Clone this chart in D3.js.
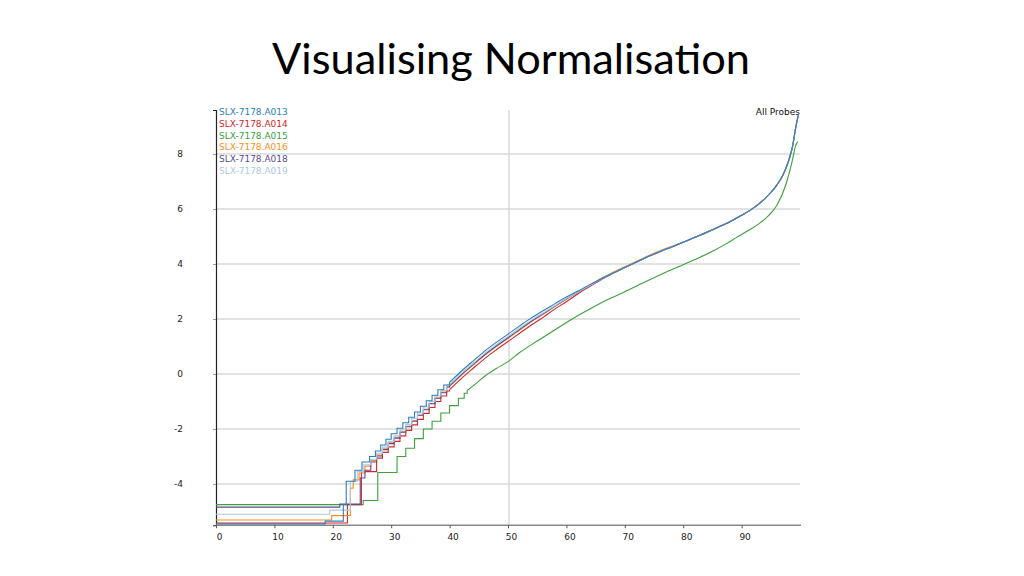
<!DOCTYPE html>
<html><head><meta charset="utf-8">
<script src="https://cdn.jsdelivr.net/npm/d3@7"></script>
<style>body{margin:0;background:#fff;}svg{display:block;}</style>
</head><body>
<svg id="c" width="1024" height="576"></svg>
<script>
// ---- data ----
const seriesNames = ["SLX-7178.A013","SLX-7178.A014","SLX-7178.A015","SLX-7178.A016","SLX-7178.A018","SLX-7178.A019"];
const seriesColors = ["#2f7ebc","#d62728","#3ca03c","#ff8c1a","#5a4d8f","#aec7e8"];
const xTicks = [0,10,20,30,40,50,60,70,80,90];
const yTicks = [-4,-2,0,2,4,6,8];
const vGrid = [50];

// step (low-count) portion, percentile vs value
const stepsA013 = [[0,-5.45],[18.7,-5.35],[21.8,-4.75],[22.3,-3.9],[23.8,-3.5],[25.0,-3.2],[26.3,-3.0],[27.3,-2.8],[28.2,-2.58],[29.1,-2.37],[30.0,-2.17],[31.0,-1.97],[32.0,-1.77],[33.0,-1.57],[34.0,-1.38],[35.0,-1.17],[36.0,-0.97],[37.0,-0.77],[38.0,-0.57],[39.0,-0.4]];
const stepsA014 = [[0,-5.42],[22.5,-4.75],[24.9,-3.55],[27.5,-3.06],[28.5,-2.85],[29.5,-2.65],[30.5,-2.45],[31.5,-2.25],[32.5,-2.05],[33.5,-1.85],[34.5,-1.65],[35.5,-1.43],[36.5,-1.22],[37.5,-1.0],[38.5,-0.8],[39.5,-0.62]];
const stepsA015 = [[0,-4.75],[25.2,-4.6],[27.7,-3.58],[31.0,-3.0],[32.5,-2.7],[34.0,-2.35],[35.5,-2.0],[37.0,-1.72],[38.5,-1.42],[40.0,-1.15],[41.5,-0.88],[42.5,-0.7]];
const stepsA016 = [[0,-5.31],[19.8,-5.15],[23.0,-4.15],[23.5,-3.85],[24.5,-3.6],[25.5,-3.35],[26.5,-3.15],[27.5,-2.95],[28.5,-2.72],[29.5,-2.5],[30.5,-2.3],[31.5,-2.1],[32.5,-1.9],[33.5,-1.7],[34.5,-1.5],[35.5,-1.28],[36.5,-1.07],[37.5,-0.87],[38.5,-0.66],[39.5,-0.47]];
const stepsA018 = [[0,-4.84],[21.2,-4.73],[24.7,-3.78],[25.5,-3.5],[26.5,-3.2],[27.5,-2.98],[28.5,-2.75],[29.5,-2.53],[30.5,-2.33],[31.5,-2.12],[32.5,-1.92],[33.5,-1.72],[34.5,-1.5],[35.5,-1.3],[36.5,-1.08],[37.5,-0.88],[38.5,-0.68],[39.5,-0.47]];
const stepsA019 = [[0,-5.1],[19.5,-4.95],[23.0,-3.9],[24.2,-3.55],[25.3,-3.3],[26.5,-3.1],[27.5,-2.88],[28.5,-2.66],[29.5,-2.45],[30.5,-2.25],[31.5,-2.03],[32.5,-1.83],[33.5,-1.62],[34.5,-1.42],[35.5,-1.2],[36.5,-1.0],[37.5,-0.8],[38.5,-0.6],[39.5,-0.4]];

// smooth portion
const smoothX = [40,42,44,46,48,50,52,54,56,58,60,62,64,66,68,70,72,74,76,78,80,82,84,86,88,90,92,94,95,96,97,98,98.7,99.3,99.7];
const smoothA013 = [-0.3,0.1,0.47,0.83,1.15,1.45,1.75,2.04,2.3,2.55,2.8,3.02,3.25,3.46,3.67,3.87,4.07,4.27,4.45,4.62,4.79,4.97,5.15,5.34,5.54,5.77,6.03,6.38,6.6,6.86,7.2,7.72,8.25,9.0,9.4];
const smoothA014 = [-0.57,-0.17,0.2,0.56,0.88,1.18,1.48,1.78,2.06,2.36,2.63,2.92,3.18,3.44,3.66,3.87,4.07,4.27,4.45,4.62,4.79,4.97,5.15,5.34,5.54,5.77,6.03,6.38,6.6,6.86,7.2,7.72,8.25,9.0,9.38];
const smoothA016 = [-0.45,-0.05,0.32,0.68,1.0,1.3,1.6,1.9,2.17,2.45,2.72,2.98,3.23,3.48,3.7,3.9,4.1,4.3,4.48,4.64,4.8,4.98,5.16,5.35,5.55,5.77,6.03,6.38,6.6,6.86,7.2,7.72,8.25,9.0,9.4];
const smoothA018 = [-0.43,-0.03,0.34,0.7,1.02,1.32,1.62,1.92,2.19,2.46,2.73,2.97,3.22,3.45,3.67,3.87,4.07,4.27,4.45,4.62,4.79,4.97,5.15,5.34,5.54,5.77,6.03,6.38,6.6,6.86,7.2,7.72,8.25,9.0,9.42];
const smoothA019 = [-0.38,0.02,0.39,0.75,1.07,1.37,1.67,1.96,2.22,2.48,2.74,2.98,3.22,3.45,3.67,3.87,4.07,4.27,4.45,4.62,4.79,4.97,5.15,5.34,5.54,5.77,6.03,6.38,6.6,6.86,7.2,7.72,8.25,9.0,9.4];
const greenX = [43,44.5,46,48,50,52,55,58,61,64,67,70,73,76,79,82,85,87.4,89,91,93,94.7,96,97.6,98.7,99.2,99.6];
const greenY = [-0.6,-0.35,-0.08,0.2,0.45,0.78,1.2,1.6,2.0,2.36,2.7,2.99,3.3,3.6,3.88,4.16,4.46,4.74,4.95,5.2,5.47,5.78,6.12,6.9,7.78,8.27,8.45];

const steps = [stepsA013, stepsA014, stepsA015, stepsA016, stepsA018, stepsA019];
const smooth = [
  smoothX.map((x,i)=>[x,smoothA013[i]]),
  smoothX.map((x,i)=>[x,smoothA014[i]]),
  greenX.map((x,i)=>[x,greenY[i]]),
  smoothX.map((x,i)=>[x,smoothA016[i]]),
  smoothX.map((x,i)=>[x,smoothA018[i]]),
  smoothX.map((x,i)=>[x,smoothA019[i]])
];

// ---- layout ----
const svg = d3.select("#c");
const x = d3.scaleLinear().domain([0,100]).range([216,800]);
const y = d3.scaleLinear().domain([-5.5,9.6]).range([525.25,110]);

// title
const title = svg.append("text").attr("x",511).attr("y",74).attr("text-anchor","middle")
  .style("font-family","Lato, 'Open Sans', sans-serif").style("font-size","44px").attr("fill","#000")
  .text("Visualising Normalisation");
const tw = title.node().getComputedTextLength();
title.style("font-size", (44*478/tw).toFixed(2)+"px");

// gridlines
svg.append("g").selectAll("line").data(yTicks).join("line")
  .attr("x1",x(0)).attr("x2",x(100)).attr("y1",d=>y(d)).attr("y2",d=>y(d))
  .attr("stroke","#d9d9d9").attr("stroke-width",1.5);
svg.append("g").selectAll("line").data(vGrid).join("line")
  .attr("x1",d=>x(d)+1).attr("x2",d=>x(d)+1).attr("y1",y(9.6)).attr("y2",y(-5.5))
  .attr("stroke","#d9d9d9").attr("stroke-width",1.5);

// axes
const fontAx = "Tahoma, 'DejaVu Sans', sans-serif";
const yAxis = d3.axisLeft(y).tickValues(yTicks).tickSize(3).tickPadding(30).tickFormat(d=>String(d));
const gy = svg.append("g").attr("transform",`translate(${x(0)},0)`).call(yAxis);
gy.select(".domain").attr("stroke","#222").attr("stroke-width",1.2);
gy.selectAll(".tick line").attr("stroke","#999");
gy.selectAll(".tick text").style("font-family",fontAx).style("font-size","9px").attr("fill","#222");

const xAxis = d3.axisBottom(x).tickValues(xTicks).tickSize(3).tickPadding(5).tickFormat(d=>String(d));
const gx = svg.append("g").attr("transform",`translate(0,${y(-5.5)})`).call(xAxis);
gx.select(".domain").attr("stroke","#888").attr("stroke-width",1.5).attr("d",`M${x(0)},0H${x(100)+1}`);
gx.selectAll(".tick line").attr("stroke","#555");
gx.selectAll(".tick text").attr("dx",3).style("font-family",fontAx).style("font-size","9px").attr("fill","#222");

// lines
const stepLine = d3.line().x(d=>x(d[0])).y(d=>y(d[1])).curve(d3.curveStepAfter);
const smoothLine = d3.line().x(d=>x(d[0])).y(d=>y(d[1])).curve(d3.curveMonotoneX);
const order = [2,1,3,4,5,0];
const lg = svg.append("g").attr("fill","none").attr("stroke-width",1.1);
order.forEach(i=>{
  lg.append("path").attr("d", stepLine(steps[i].concat([smooth[i][0]]))).attr("stroke",seriesColors[i]);
  lg.append("path").attr("d", smoothLine(smooth[i])).attr("stroke",seriesColors[i]);
});

// legend
svg.append("g").selectAll("text").data(seriesNames).join("text")
  .attr("x",219).attr("y",(d,i)=>115+i*11.8)
  .style("font-family",fontAx).style("font-size","9px")
  .attr("fill",(d,i)=>seriesColors[i]).text(d=>d);

svg.append("text").attr("x",800).attr("y",115).attr("text-anchor","end")
  .style("font-family",fontAx).style("font-size","9px").attr("fill","#111").text("All Probes");
</script>
</body></html>
